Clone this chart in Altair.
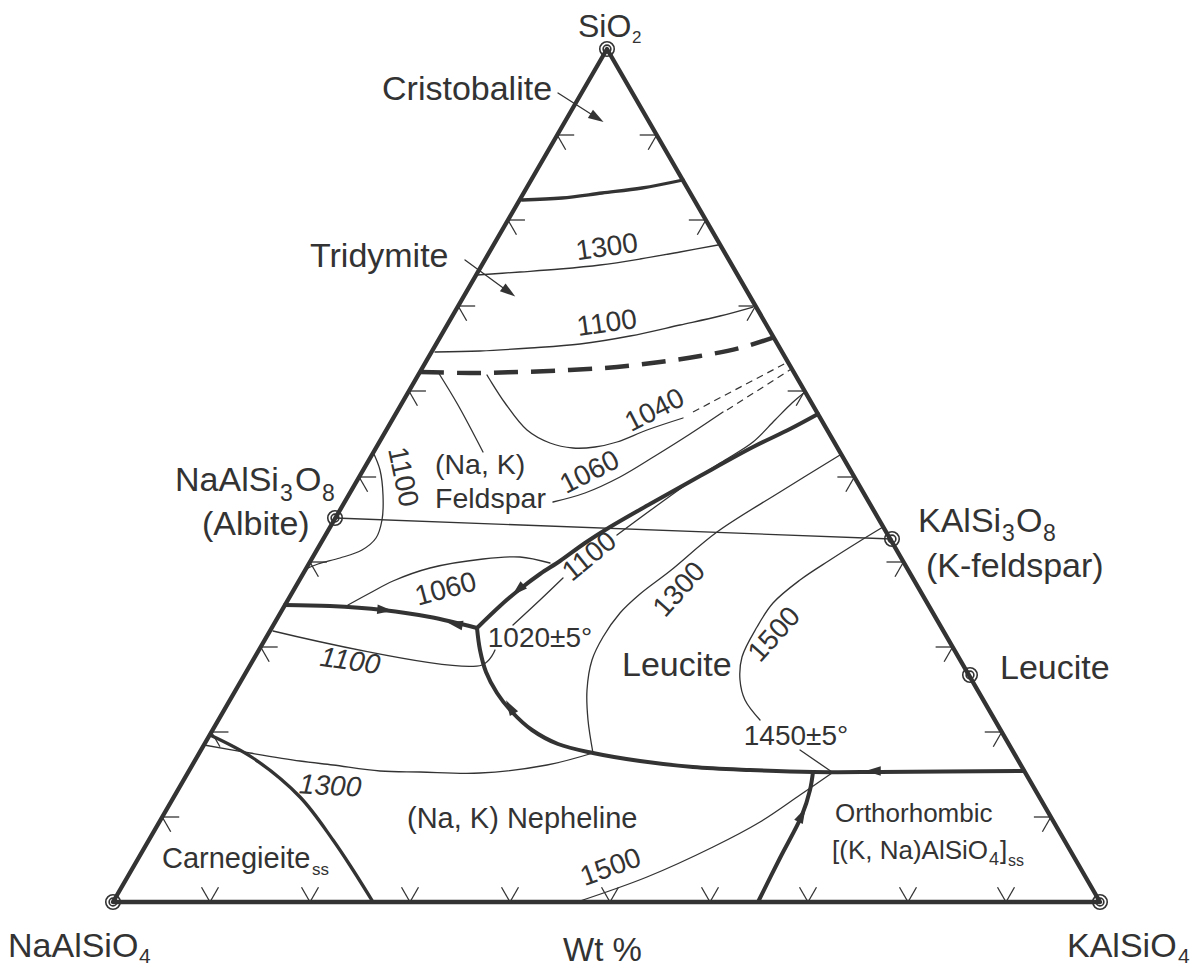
import math
import altair as alt
import pandas as pd

INK = "#333333"
FONT = "Liberation Sans"

# ---- triangle vertices (pixel coordinates of the diagram) ----
TOP = (607, 49)
LEFT = (113, 902)
RIGHT = (1100, 902)

# ---- phase boundaries (thick) ----
cristo_trid_x = [522, 562, 602, 642, 683]
cristo_trid_y = [200, 198, 193, 188, 180]

fsp_lc_x = [477, 500, 520, 540, 560, 585, 610, 650, 700, 753, 790, 818]
fsp_lc_y = [628, 606, 589, 574, 561, 543, 527, 504, 476, 447, 429, 414]

fsp_ne_x = [285, 330, 383, 430, 477]
fsp_ne_y = [605, 606, 610, 617, 628]

lc_ne_x = [477, 480, 486, 497, 512, 532, 558, 593, 640, 693, 750, 813, 880, 1024]
lc_ne_y = [628, 650, 672, 693, 712, 730, 744, 753, 761, 767, 770, 772, 772, 771]

ortho_x = [758, 780, 802, 810, 813]
ortho_y = [902, 858, 815, 790, 772]

carn_x = [210, 253, 300, 333, 353, 373]
carn_y = [735, 758, 797, 840, 870, 902]

# dashed tridymite / feldspar boundary
trid_fsp_x = [420, 470, 520, 570, 617, 660, 700, 740, 775]
trid_fsp_y = [372, 373, 372, 370, 367, 362, 356, 348, 337]

# ---- isotherms (thin) ----
iso1300_top_x = [477, 520, 560, 600, 640, 680, 718]
iso1300_top_y = [275, 272, 269, 265, 259, 252, 245]

iso1100_top_x = [435, 480, 530, 580, 630, 680, 720, 753]
iso1100_top_y = [352, 351, 348, 344, 336, 325, 316, 307]

iso1040_x = [487, 490, 505, 527, 550, 573, 595, 617, 647, 683]
iso1040_y = [375, 380, 403, 430, 443, 448, 447, 442, 430, 418]

iso1060_up_x = [553, 585, 620, 655, 690, 723]
iso1060_up_y = [502, 493, 477, 456, 434, 412]

fsp_leader_x = [438, 458, 483]
fsp_leader_y = [372, 405, 452]

iso1100_ab_x = [373, 380, 383, 382, 376, 362, 340, 318, 306]
iso1100_ab_y = [452, 470, 495, 520, 538, 550, 558, 564, 569]

ab_kfs_x = [335, 892]
ab_kfs_y = [518, 539]

iso1060_low_x = [348, 370, 393, 430, 483, 520, 550]
iso1060_low_y = [605, 593, 581, 568, 559, 557, 563]

iso1100_a_x = [273, 482, 495]
iso1100_a_y = [631, 665, 650]
iso1100_b_x = [513, 540, 563]
iso1100_b_y = [625, 600, 578]
iso1100_c_x = [617, 655, 693, 725, 753, 775, 792, 805]
iso1100_c_y = [535, 507, 480, 460, 442, 420, 403, 392]

iso1300_leu_x = [593, 588, 587, 592, 603, 620, 640, 670, 717, 780, 840]
iso1300_leu_y = [753, 720, 690, 660, 637, 613, 594, 571, 532, 492, 455]

iso1300_bl_x = [204, 250, 300, 333, 380, 420, 480, 547, 593]
iso1300_bl_y = [745, 753, 761, 765, 771, 772, 773, 765, 753]

iso1500_leu_x = [883, 860, 830, 800, 773, 757, 742, 740, 745, 760]
iso1500_leu_y = [527, 541, 560, 580, 603, 627, 657, 680, 700, 720]

iso1500_bot_x = [577, 647, 713, 760, 800, 832]
iso1500_bot_y = [902, 877, 847, 822, 795, 773]

leader1450_x = [800, 832]
leader1450_y = [750, 772]

# dashed continuations of 1040 / 1060
dash1040_x = [693, 788]
dash1040_y = [412, 362]
dash1060_x = [727, 793]
dash1060_y = [410, 368]

# label leaders with arrowheads
cristo_arrow_x = [558, 594]
cristo_arrow_y = [93, 116]
trid_arrow_x = [465, 506]
trid_arrow_y = [260, 290]

# ---- arrowheads on boundaries: x, y, direction (deg, clockwise) ----
arrow_x = [385, 455, 518, 510, 873, 802, 597, 509]
arrow_y = [610, 624, 590, 707, 771, 815, 118, 292]
arrow_dir = [5, 191, 138, 239, 180, 297, 32, 36]

# ---- compositions marked by double circles ----
comp_x = [607, 113, 1100, 335, 892, 970]
comp_y = [49, 902, 902, 518, 539, 675]

# ---- tick marks (positions along edges) ----
bottom_tick_x = [210, 310, 410, 510, 610, 710, 808, 908, 1006]
side_tick_y = [135, 220, 306, 391, 477, 562, 647, 732, 817]

# ---- labels ----
# left aligned, alphabetic baseline: text, x, y, size
lab_text = ["SiO", "2", "Cristobalite", "Tridymite",
            "NaAlSi", "3", "O", "8", "(Albite)",
            "KAlSi", "3", "O", "8", "(K-feldspar)", "Leucite",
            "(Na, K)", "Feldspar", "Leucite", "(Na, K) Nepheline",
            "Orthorhombic", "[(K, Na)AlSiO", "4", "]", "ss",
            "Carnegieite", "ss", "NaAlSiO", "4", "Wt %", "KAlSiO", "4"]
lab_x = [578, 632, 382, 310,
         175, 280, 295, 322, 202,
         918, 1002, 1016, 1043, 926, 1000,
         435, 435, 622, 407,
         835, 832, 989, 1000, 1008,
         162, 312, 8, 139, 563, 1067, 1178]
lab_y = [37, 43, 100, 267,
         491, 501, 491, 501, 535,
         532, 541, 532, 541, 577, 679,
         474, 508, 676, 828,
         822, 859, 865, 859, 866,
         868, 875, 957, 963, 961, 957, 963]
lab_size = [32, 17, 34, 34,
            34, 23, 34, 23, 34,
            34, 23, 34, 23, 34, 34,
            28.5, 28.5, 34, 29,
            26, 26, 18, 26, 16,
            29, 17, 34, 21, 33, 34, 21]

# isotherm labels (centered): text, x, y, angle
iso_text = ["1300", "1100", "1040", "1060", "1100", "1060", "1020±5°",
            "1100", "1300", "1500", "1450±5°", "1500"]
iso_x = [607, 607, 655, 590, 402, 446, 540, 590, 680, 775, 796, 611]
iso_y = [248, 324, 411, 473, 477, 590, 639, 557, 590, 635, 737, 868]
iso_angle = [352, 352, 333, 333, 78, 345, 0, 321, 312, 312, 0, 340]

ital_text = ["1100", "1300"]
ital_x = [350, 330]
ital_y = [662, 787]
ital_angle = [8, 3]

# ---------------------------------------------------------------
X = lambda f="x": alt.X(f"{f}:Q", scale=alt.Scale(domain=[8, 1192], nice=False, zero=False), axis=None)
Y = lambda f="y": alt.Y(f"{f}:Q", scale=alt.Scale(domain=[968, 8], nice=False, zero=False), axis=None)


def lines_df(curves):
    rows = []
    for name, (xs, ys) in curves.items():
        for i, (a, b) in enumerate(zip(xs, ys)):
            rows.append({"seg": name, "ord": i, "x": a, "y": b})
    return pd.DataFrame(rows)


def line_layer(curves, width, interp="linear", dash=None, cap="round"):
    kw = dict(color=INK, strokeWidth=width, interpolate=interp, strokeCap=cap, strokeJoin="round")
    if dash is not None:
        kw["strokeDash"] = dash
    return alt.Chart(lines_df(curves)).mark_line(**kw).encode(
        x=X(), y=Y(), detail="seg:N", order="ord:Q")


edges = line_layer({"tri": ([LEFT[0], TOP[0], RIGHT[0], LEFT[0]],
                            [LEFT[1], TOP[1], RIGHT[1], LEFT[1]])}, 4.3)

thick = line_layer({
    "fsp_lc": (fsp_lc_x, fsp_lc_y),
    "fsp_ne": (fsp_ne_x, fsp_ne_y),
    "lc_ne": (lc_ne_x, lc_ne_y),
    "ortho": (ortho_x, ortho_y),
}, 4, "catmull-rom")

medium = line_layer({
    "cristo": (cristo_trid_x, cristo_trid_y),
    "carn": (carn_x, carn_y),
}, 3.3, "catmull-rom")

thin = line_layer({
    "i1300t": (iso1300_top_x, iso1300_top_y),
    "i1100t": (iso1100_top_x, iso1100_top_y),
    "i1040": (iso1040_x, iso1040_y),
    "i1060u": (iso1060_up_x, iso1060_up_y),
    "fspl": (fsp_leader_x, fsp_leader_y),
    "i1100ab": (iso1100_ab_x, iso1100_ab_y),
    "abkfs": (ab_kfs_x, ab_kfs_y),
    "i1060l": (iso1060_low_x, iso1060_low_y),
    "i1100a": (iso1100_a_x, iso1100_a_y),
    "i1100b": (iso1100_b_x, iso1100_b_y),
    "i1100c": (iso1100_c_x, iso1100_c_y),
    "i1300l": (iso1300_leu_x, iso1300_leu_y),
    "i1300b": (iso1300_bl_x, iso1300_bl_y),
    "i1500l": (iso1500_leu_x, iso1500_leu_y),
    "i1500b": (iso1500_bot_x, iso1500_bot_y),
    "l1450": (leader1450_x, leader1450_y),
    "ca": (cristo_arrow_x, cristo_arrow_y),
    "ta": (trid_arrow_x, trid_arrow_y),
}, 1.3, "catmull-rom")

dashed_thick = line_layer({"tf": (trid_fsp_x, trid_fsp_y)}, 4.5, "catmull-rom",
                          dash=[24, 13], cap="butt")
dashed_thin = line_layer({"d1040": (dash1040_x, dash1040_y),
                          "d1060": (dash1060_x, dash1060_y)}, 1.2, dash=[7, 5], cap="butt")

# tick marks: chevrons whose arms run parallel to the two other edges
L = 17
s60, c60 = math.sin(math.radians(60)), math.cos(math.radians(60))
tick_rows = []
for yk in side_tick_y:
    t = (yk - TOP[1]) / (LEFT[1] - TOP[1])
    xl = TOP[0] + t * (LEFT[0] - TOP[0])
    xr = TOP[0] + t * (RIGHT[0] - TOP[0])
    tick_rows += [
        {"x": xl, "y": yk, "x2": xl + L, "y2": yk},
        {"x": xl, "y": yk, "x2": xl + L * c60, "y2": yk + L * s60},
        {"x": xr, "y": yk, "x2": xr - L, "y2": yk},
        {"x": xr, "y": yk, "x2": xr - L * c60, "y2": yk + L * s60},
    ]
for xk in bottom_tick_x:
    tick_rows += [
        {"x": xk, "y": LEFT[1], "x2": xk - L * c60, "y2": LEFT[1] - L * s60},
        {"x": xk, "y": LEFT[1], "x2": xk + L * c60, "y2": LEFT[1] - L * s60},
    ]
ticks = alt.Chart(pd.DataFrame(tick_rows)).mark_rule(color=INK, strokeWidth=1.3).encode(
    x=X(), y=Y(), x2="x2:Q", y2="y2:Q")

arrows = alt.Chart(pd.DataFrame({"x": arrow_x, "y": arrow_y, "a": arrow_dir})).mark_point(
    shape="M1,0L-1,-0.62L-1,0.62Z", filled=True, color=INK, opacity=1, size=240, strokeWidth=0
).encode(x=X(), y=Y(), angle=alt.Angle("a:Q", scale=None))

comp_df = pd.DataFrame({"x": comp_x, "y": comp_y})
ring_out = alt.Chart(comp_df).mark_point(shape="circle", filled=False, color=INK, size=210,
                                         strokeWidth=1.6, opacity=1).encode(x=X(), y=Y())
ring_in = alt.Chart(comp_df).mark_point(shape="circle", filled=False, color=INK, size=60,
                                        strokeWidth=1.6, opacity=1).encode(x=X(), y=Y())

labels = alt.Chart(pd.DataFrame({"t": lab_text, "x": lab_x, "y": lab_y, "s": lab_size})).mark_text(
    align="left", baseline="alphabetic", font=FONT, color=INK
).encode(x=X(), y=Y(), text="t:N", size=alt.Size("s:Q", scale=None))

iso_labels = alt.Chart(pd.DataFrame({"t": iso_text, "x": iso_x, "y": iso_y, "a": iso_angle})).mark_text(
    align="center", baseline="middle", font=FONT, color=INK, fontSize=28
).encode(x=X(), y=Y(), text="t:N", angle=alt.Angle("a:Q", scale=None))

ital_labels = alt.Chart(pd.DataFrame({"t": ital_text, "x": ital_x, "y": ital_y, "a": ital_angle})).mark_text(
    align="center", baseline="middle", font=FONT, color=INK, fontSize=28, fontStyle="italic"
).encode(x=X(), y=Y(), text="t:N", angle=alt.Angle("a:Q", scale=None))

chart = alt.layer(
    thin, dashed_thin, ticks, medium, thick, dashed_thick, edges,
    arrows, ring_out, ring_in, labels, iso_labels, ital_labels
).properties(
    width=1184, height=960, autosize=alt.AutoSizeParams(type="none"), padding=0,
    background="white"
).configure_view(stroke=None)

chart.save("out.html", embed_options={"renderer": "svg", "actions": False})
